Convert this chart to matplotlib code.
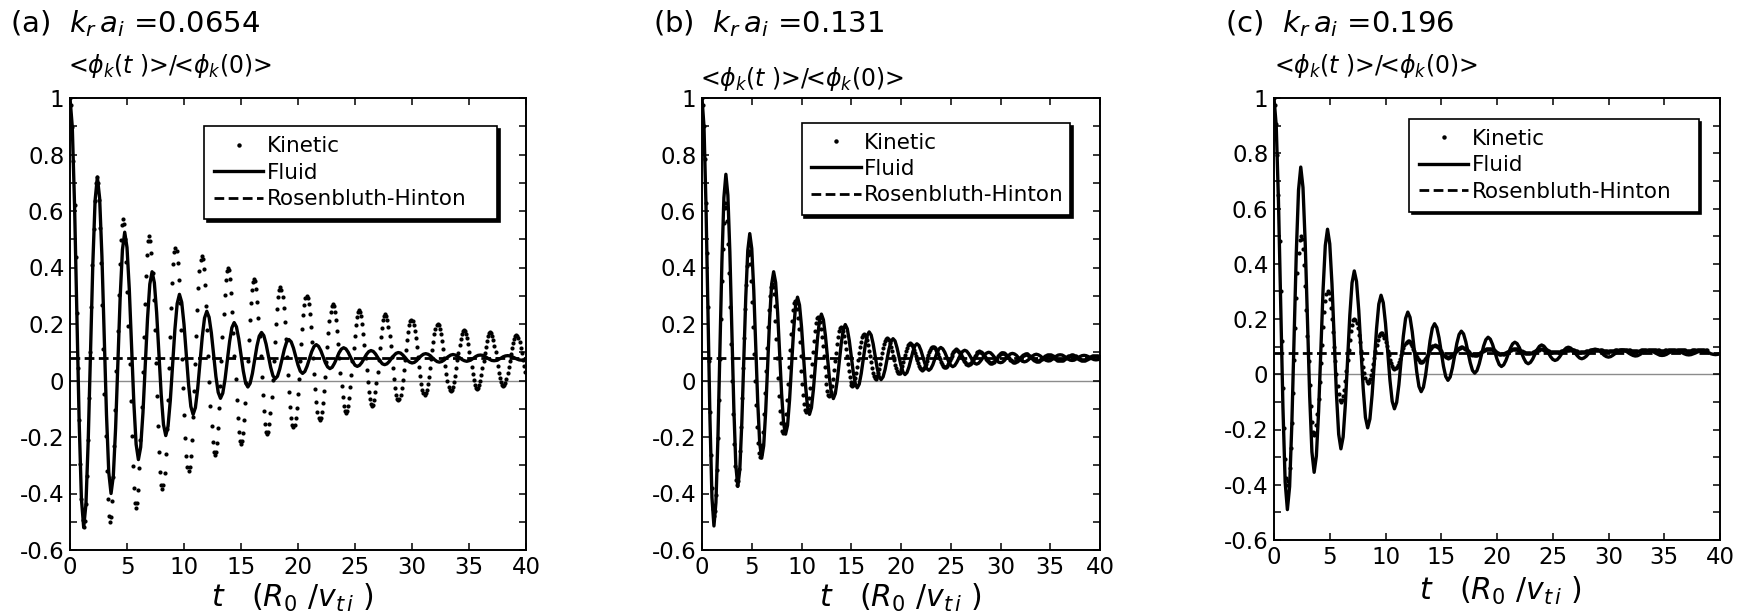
import numpy as np
import matplotlib
matplotlib.use('Agg')
import matplotlib.pyplot as plt
from matplotlib.lines import Line2D
from matplotlib.ticker import MultipleLocator

plt.rcParams['font.family'] = ['DejaVu Sans']
plt.rcParams['mathtext.fontset'] = 'dejavusans'

panel_tags = ['(a)', '(b)', '(c)']
kr_ai = ['0.0654', '0.131', '0.196']
legend_labels = ['Kinetic', 'Fluid', 'Rosenbluth-Hinton']
rh_level = [0.079, 0.08, 0.078]

xticks = [0, 5, 10, 15, 20, 25, 30, 35, 40]
yticks = [-0.6, -0.4, -0.2, 0, 0.2, 0.4, 0.6, 0.8, 1]
ytick_labels = ['-0.6', '-0.4', '-0.2', '0', '0.2', '0.4', '0.6', '0.8', '1']

# fluid results, one value every 0.2 R0/vti
fluid_a = [
    1, 0.898, 0.62, 0.24, -0.14, -0.418,
    -0.52, -0.437, -0.21, 0.1, 0.41, 0.637,
    0.72, 0.645, 0.44, 0.16, -0.12, -0.325,
    -0.4, -0.338, -0.169, 0.063, 0.294, 0.463,
    0.525, 0.471, 0.324, 0.123, -0.079, -0.226,
    -0.28, -0.236, -0.114, 0.053, 0.219, 0.341,
    0.385, 0.346, 0.24, 0.095, -0.05, -0.156,
    -0.195, -0.162, -0.07, 0.055, 0.18, 0.272,
    0.305, 0.277, 0.199, 0.093, -0.014, -0.092,
    -0.12, -0.096, -0.029, 0.063, 0.154, 0.221,
    0.245, 0.224, 0.168, 0.091, 0.014, -0.042,
    -0.063, -0.045, 0.004, 0.071, 0.138, 0.187,
    0.205, 0.19, 0.148, 0.091, 0.034, -0.008,
    -0.023, -0.01, 0.025, 0.074, 0.122, 0.157,
    0.17, 0.159, 0.129, 0.088, 0.047, 0.017,
    0.006, 0.015, 0.041, 0.076, 0.11, 0.136,
    0.145, 0.137, 0.115, 0.085, 0.055, 0.033,
    0.025, 0.032, 0.051, 0.076, 0.102, 0.12,
    0.127, 0.121, 0.106, 0.085, 0.063, 0.048,
    0.042, 0.047, 0.061, 0.079, 0.098, 0.111,
    0.116, 0.112, 0.1, 0.083, 0.067, 0.054,
    0.05, 0.054, 0.064, 0.078, 0.092, 0.102,
    0.106, 0.103, 0.094, 0.081, 0.069, 0.059,
    0.056, 0.059, 0.067, 0.078, 0.088, 0.096,
    0.099, 0.097, 0.09, 0.081, 0.071, 0.065,
    0.062, 0.064, 0.07, 0.079, 0.087, 0.093,
    0.095, 0.093, 0.088, 0.08, 0.073, 0.067,
    0.065, 0.067, 0.072, 0.079, 0.085, 0.09,
    0.092, 0.09, 0.086, 0.08, 0.074, 0.07,
    0.068, 0.07, 0.074, 0.079, 0.085, 0.089,
    0.09, 0.089, 0.085, 0.08, 0.075, 0.071,
    0.07, 0.071, 0.075, 0.079, 0.084, 0.087,
    0.088, 0.087, 0.084, 0.08, 0.076, 0.073,
    0.072, 0.073, 0.076,
]

fluid_b = [
    1, 0.899, 0.621, 0.243, -0.136, -0.414,
    -0.515, -0.432, -0.204, 0.108, 0.419, 0.647,
    0.73, 0.656, 0.454, 0.178, -0.099, -0.301,
    -0.375, -0.315, -0.151, 0.073, 0.296, 0.46,
    0.52, 0.467, 0.321, 0.123, -0.076, -0.222,
    -0.275, -0.231, -0.11, 0.055, 0.22, 0.341,
    0.385, 0.347, 0.241, 0.098, -0.046, -0.152,
    -0.19, -0.158, -0.069, 0.053, 0.174, 0.263,
    0.295, 0.267, 0.191, 0.088, -0.016, -0.092,
    -0.12, -0.096, -0.031, 0.058, 0.146, 0.211,
    0.235, 0.215, 0.16, 0.086, 0.011, -0.044,
    -0.064, -0.046, 0.002, 0.067, 0.133, 0.18,
    0.198, 0.183, 0.142, 0.086, 0.03, -0.011,
    -0.026, -0.013, 0.024, 0.073, 0.123, 0.159,
    0.172, 0.161, 0.13, 0.088, 0.045, 0.014,
    0.003, 0.013, 0.039, 0.076, 0.112, 0.138,
    0.148, 0.14, 0.116, 0.085, 0.053, 0.03,
    0.021, 0.028, 0.048, 0.076, 0.103, 0.123,
    0.13, 0.124, 0.107, 0.083, 0.06, 0.042,
    0.036, 0.042, 0.056, 0.077, 0.097, 0.111,
    0.117, 0.112, 0.1, 0.083, 0.066, 0.054,
    0.049, 0.053, 0.064, 0.078, 0.093, 0.103,
    0.107, 0.104, 0.095, 0.083, 0.07, 0.061,
    0.058, 0.061, 0.069, 0.079, 0.09, 0.097,
    0.1, 0.098, 0.091, 0.082, 0.072, 0.065,
    0.063, 0.065, 0.071, 0.08, 0.088, 0.094,
    0.096, 0.094, 0.089, 0.081, 0.074, 0.068,
    0.066, 0.068, 0.073, 0.08, 0.086, 0.091,
    0.093, 0.091, 0.087, 0.081, 0.075, 0.071,
    0.069, 0.07, 0.075, 0.08, 0.086, 0.09,
    0.091, 0.09, 0.086, 0.081, 0.076, 0.072,
    0.071, 0.072, 0.076, 0.08, 0.085, 0.088,
    0.089, 0.088, 0.085, 0.081, 0.077, 0.074,
    0.073, 0.074, 0.077,
]

fluid_c = [
    1, 0.9, 0.628, 0.255, -0.118, -0.39,
    -0.49, -0.407, -0.18, 0.13, 0.44, 0.667,
    0.75, 0.676, 0.474, 0.198, -0.079, -0.281,
    -0.355, -0.296, -0.135, 0.085, 0.305, 0.466,
    0.525, 0.472, 0.326, 0.128, -0.071, -0.217,
    -0.27, -0.227, -0.109, 0.052, 0.213, 0.331,
    0.374, 0.336, 0.232, 0.09, -0.052, -0.156,
    -0.194, -0.162, -0.074, 0.046, 0.166, 0.254,
    0.286, 0.259, 0.184, 0.081, -0.022, -0.098,
    -0.125, -0.102, -0.038, 0.05, 0.138, 0.202,
    0.225, 0.206, 0.153, 0.081, 0.009, -0.044,
    -0.063, -0.047, -0.002, 0.06, 0.122, 0.167,
    0.183, 0.169, 0.132, 0.081, 0.029, -0.008,
    -0.022, -0.01, 0.023, 0.067, 0.112, 0.144,
    0.156, 0.146, 0.118, 0.08, 0.042, 0.014,
    0.004, 0.013, 0.037, 0.069, 0.102, 0.125,
    0.134, 0.127, 0.108, 0.081, 0.055, 0.035,
    0.028, 0.034, 0.05, 0.072, 0.094, 0.11,
    0.116, 0.111, 0.097, 0.077, 0.058, 0.043,
    0.038, 0.043, 0.055, 0.072, 0.089, 0.101,
    0.106, 0.102, 0.092, 0.078, 0.064, 0.054,
    0.05, 0.053, 0.062, 0.074, 0.086, 0.095,
    0.098, 0.095, 0.088, 0.077, 0.067, 0.059,
    0.056, 0.059, 0.065, 0.074, 0.082, 0.089,
    0.091, 0.089, 0.084, 0.077, 0.069, 0.064,
    0.062, 0.064, 0.069, 0.075, 0.082, 0.086,
    0.088, 0.087, 0.083, 0.077, 0.072, 0.068,
    0.066, 0.067, 0.071, 0.076, 0.081, 0.085,
    0.086, 0.085, 0.082, 0.077, 0.073, 0.069,
    0.068, 0.069, 0.072, 0.077, 0.081, 0.084,
    0.085, 0.084, 0.081, 0.078, 0.074, 0.071,
    0.07, 0.071, 0.074, 0.077, 0.081, 0.083,
    0.084, 0.083, 0.081, 0.078, 0.074, 0.072,
    0.071, 0.072, 0.074,
]

# kinetic results: first 12 samples every 0.1, then 12 samples per half oscillation
kin_half_period = [1.15, 1.16, 1.2]

kin_a = [
    1, 0.974, 0.898, 0.777, 0.62, 0.437, 0.24, 0.043, -0.14, -0.297, -0.418, -0.494,
    -0.52, -0.499, -0.437, -0.338, -0.21, -0.061, 0.1, 0.261, 0.41, 0.538, 0.637, 0.699,
    0.72, 0.699, 0.638, 0.541, 0.415, 0.268, 0.11, -0.048, -0.195, -0.321, -0.418, -0.479,
    -0.5, -0.482, -0.428, -0.343, -0.233, -0.104, 0.035, 0.174, 0.303, 0.413, 0.498, 0.552,
    0.57, 0.553, 0.502, 0.421, 0.315, 0.192, 0.06, -0.072, -0.195, -0.301, -0.382, -0.433,
    -0.45, -0.434, -0.386, -0.309, -0.21, -0.094, 0.03, 0.154, 0.27, 0.369, 0.446, 0.494,
    0.51, 0.495, 0.45, 0.379, 0.286, 0.179, 0.063, -0.054, -0.161, -0.254, -0.325, -0.37,
    -0.385, -0.371, -0.328, -0.26, -0.171, -0.068, 0.043, 0.153, 0.256, 0.345, 0.413, 0.456,
    0.47, 0.457, 0.417, 0.354, 0.273, 0.177, 0.075, -0.027, -0.123, -0.204, -0.267, -0.307,
    -0.32, -0.307, -0.269, -0.209, -0.13, -0.038, 0.06, 0.158, 0.25, 0.329, 0.389, 0.427,
    0.44, 0.429, 0.393, 0.337, 0.264, 0.179, 0.088, -0.004, -0.089, -0.162, -0.218, -0.254,
    -0.265, -0.254, -0.221, -0.168, -0.099, -0.019, 0.068, 0.154, 0.234, 0.303, 0.356, 0.389,
    0.4, 0.39, 0.358, 0.309, 0.244, 0.169, 0.088, 0.007, -0.069, -0.134, -0.183, -0.215,
    -0.225, -0.215, -0.186, -0.139, -0.079, -0.008, 0.068, 0.143, 0.214, 0.274, 0.321, 0.35,
    0.36, 0.351, 0.323, 0.279, 0.223, 0.156, 0.085, 0.014, -0.053, -0.109, -0.153, -0.181,
    -0.19, -0.181, -0.155, -0.114, -0.06, 0.003, 0.07, 0.137, 0.2, 0.254, 0.295, 0.321,
    0.33, 0.322, 0.297, 0.258, 0.206, 0.147, 0.083, 0.018, -0.041, -0.093, -0.132, -0.157,
    -0.165, -0.157, -0.134, -0.097, -0.049, 0.007, 0.068, 0.128, 0.184, 0.232, 0.269, 0.292,
    0.3, 0.293, 0.271, 0.236, 0.19, 0.137, 0.08, 0.023, -0.03, -0.076, -0.111, -0.133,
    -0.14, -0.133, -0.113, -0.08, -0.038, 0.012, 0.065, 0.118, 0.168, 0.21, 0.243, 0.263,
    0.27, 0.264, 0.244, 0.214, 0.174, 0.128, 0.078, 0.028, -0.019, -0.059, -0.089, -0.109,
    -0.115, -0.109, -0.091, -0.062, -0.024, 0.02, 0.068, 0.115, 0.159, 0.197, 0.226, 0.244,
    0.25, 0.244, 0.227, 0.2, 0.165, 0.124, 0.08, 0.036, -0.005, -0.04, -0.067, -0.084,
    -0.09, -0.085, -0.068, -0.042, -0.009, 0.031, 0.073, 0.114, 0.154, 0.187, 0.213, 0.23,
    0.235, 0.23, 0.215, 0.19, 0.159, 0.122, 0.083, 0.043, 0.006, -0.025, -0.05, -0.065,
    -0.07, -0.065, -0.051, -0.028, 0.001, 0.036, 0.073, 0.109, 0.144, 0.173, 0.196, 0.21,
    0.215, 0.211, 0.197, 0.176, 0.149, 0.117, 0.083, 0.048, 0.016, -0.011, -0.032, -0.045,
    -0.05, -0.046, -0.033, -0.013, 0.013, 0.043, 0.075, 0.107, 0.138, 0.163, 0.183, 0.196,
    0.2, 0.196, 0.184, 0.165, 0.141, 0.112, 0.081, 0.05, 0.022, -0.003, -0.022, -0.034,
    -0.038, -0.034, -0.023, -0.006, 0.017, 0.043, 0.071, 0.099, 0.126, 0.148, 0.165, 0.176,
    0.18, 0.176, 0.166, 0.149, 0.128, 0.102, 0.075, 0.048, 0.023, 0.001, -0.016, -0.026,
    -0.03, -0.027, -0.017, -0.001, 0.02, 0.044, 0.07, 0.096, 0.12, 0.141, 0.157, 0.167,
    0.17, 0.167, 0.157, 0.142, 0.123, 0.1, 0.075, 0.05, 0.028, 0.008, -0.007, -0.017,
    -0.02, -0.017, -0.008, 0.006, 0.025, 0.047, 0.07, 0.093, 0.115, 0.134, 0.148, 0.157,
    0.16, 0.157, 0.149, 0.135, 0.116, 0.096, 0.073, 0.05, 0.029,
]

kin_b = [
    1, 0.975, 0.901, 0.783, 0.63, 0.452, 0.26, 0.068, -0.11, -0.263, -0.381, -0.455,
    -0.48, -0.461, -0.406, -0.317, -0.203, -0.069, 0.075, 0.219, 0.353, 0.467, 0.556, 0.611,
    0.63, 0.613, 0.563, 0.484, 0.38, 0.26, 0.13, 0.0, -0.12, -0.224, -0.303, -0.353,
    -0.37, -0.356, -0.314, -0.248, -0.163, -0.062, 0.045, 0.152, 0.253, 0.338, 0.404, 0.446,
    0.46, 0.448, 0.411, 0.353, 0.278, 0.19, 0.095, 0.0, -0.088, -0.163, -0.221, -0.258,
    -0.27, -0.26, -0.229, -0.181, -0.118, -0.044, 0.035, 0.114, 0.188, 0.251, 0.299, 0.33,
    0.34, 0.332, 0.305, 0.264, 0.209, 0.146, 0.078, 0.01, -0.054, -0.109, -0.15, -0.177,
    -0.185, -0.178, -0.154, -0.117, -0.069, -0.013, 0.048, 0.108, 0.164, 0.212, 0.249, 0.273,
    0.28, 0.273, 0.254, 0.223, 0.183, 0.136, 0.085, 0.034, -0.013, -0.053, -0.084, -0.103,
    -0.11, -0.104, -0.088, -0.061, -0.026, 0.015, 0.058, 0.1, 0.141, 0.176, 0.203, 0.22,
    0.225, 0.22, 0.206, 0.184, 0.155, 0.121, 0.085, 0.049, 0.015, -0.014, -0.036, -0.05,
    -0.055, -0.051, -0.039, -0.019, 0.007, 0.036, 0.068, 0.099, 0.129, 0.154, 0.174, 0.186,
    0.19, 0.186, 0.176, 0.159, 0.138, 0.112, 0.085, 0.058, 0.033, 0.011, -0.006, -0.016,
    -0.02, -0.017, -0.008, 0.008, 0.026, 0.049, 0.073, 0.096, 0.119, 0.138, 0.153, 0.162,
    0.165, 0.162, 0.154, 0.142, 0.125, 0.106, 0.085, 0.064, 0.045, 0.028, 0.016, 0.008,
    0.005, 0.008, 0.015, 0.027, 0.041, 0.059, 0.078, 0.096, 0.114, 0.129, 0.14, 0.148,
    0.15, 0.148, 0.142, 0.132, 0.119, 0.104, 0.088, 0.071, 0.056, 0.043, 0.033, 0.027,
    0.025, 0.027, 0.032, 0.041, 0.052, 0.065, 0.079, 0.092, 0.105, 0.116, 0.125, 0.13,
    0.132, 0.13, 0.126, 0.118, 0.109, 0.097, 0.085, 0.073, 0.062, 0.052, 0.044, 0.04,
    0.038, 0.039, 0.044, 0.05, 0.059, 0.068, 0.079, 0.09, 0.1, 0.108, 0.115, 0.119,
    0.12, 0.119, 0.115, 0.109, 0.102, 0.093, 0.084, 0.075, 0.066, 0.059, 0.053, 0.049,
    0.048, 0.049, 0.052, 0.057, 0.064, 0.071, 0.079, 0.087, 0.095, 0.101, 0.106, 0.109,
    0.11, 0.109, 0.106, 0.102, 0.097, 0.09, 0.083, 0.076, 0.07, 0.064, 0.06, 0.057,
    0.056, 0.057, 0.06, 0.063, 0.068, 0.074, 0.08, 0.086, 0.091, 0.096, 0.1, 0.102,
    0.103, 0.102, 0.1, 0.097, 0.093, 0.088, 0.083, 0.077, 0.072, 0.068, 0.065, 0.063,
    0.062, 0.063, 0.064, 0.067, 0.071, 0.075, 0.08, 0.085, 0.089, 0.093, 0.096, 0.097,
    0.098, 0.097, 0.096, 0.093, 0.09, 0.086, 0.082, 0.078, 0.074, 0.071, 0.068, 0.067,
    0.066, 0.067, 0.068, 0.07, 0.073, 0.076, 0.08, 0.084, 0.087, 0.09, 0.092, 0.094,
    0.094, 0.094, 0.093, 0.091, 0.088, 0.085, 0.082, 0.078, 0.075, 0.073, 0.071, 0.07,
    0.069, 0.069, 0.07, 0.072, 0.075, 0.077, 0.08, 0.083, 0.086, 0.088, 0.09, 0.091,
    0.091, 0.091, 0.09, 0.088, 0.086, 0.084, 0.081, 0.078, 0.076, 0.074, 0.072, 0.071,
    0.071, 0.071, 0.072, 0.074, 0.076, 0.078, 0.08, 0.082, 0.085, 0.086, 0.088, 0.089,
    0.089, 0.089, 0.088, 0.087, 0.085, 0.083, 0.081, 0.079, 0.077, 0.075, 0.074, 0.073,
    0.073, 0.073, 0.074, 0.075, 0.077, 0.078, 0.08, 0.082, 0.084, 0.085, 0.086, 0.087,
    0.087, 0.087, 0.086, 0.085, 0.084, 0.082,
]

kin_c = [
    1, 0.976, 0.906, 0.795, 0.65, 0.481, 0.3, 0.119, -0.05, -0.195, -0.306, -0.376,
    -0.4, -0.385, -0.34, -0.268, -0.175, -0.067, 0.05, 0.167, 0.275, 0.368, 0.44, 0.485,
    0.5, 0.488, 0.452, 0.395, 0.32, 0.233, 0.14, 0.047, -0.04, -0.115, -0.172, -0.208,
    -0.22, -0.211, -0.185, -0.144, -0.09, -0.027, 0.04, 0.107, 0.17, 0.224, 0.265, 0.291,
    0.3, 0.293, 0.273, 0.241, 0.2, 0.152, 0.1, 0.048, 0.0, -0.041, -0.073, -0.093,
    -0.1, -0.095, -0.08, -0.056, -0.025, 0.011, 0.05, 0.089, 0.125, 0.156, 0.18, 0.195,
    0.2, 0.196, 0.185, 0.166, 0.143, 0.115, 0.085, 0.055, 0.028, 0.004, -0.015, -0.026,
    -0.03, -0.027, -0.018, -0.004, 0.015, 0.037, 0.06, 0.083, 0.105, 0.124, 0.138, 0.147,
    0.15, 0.148, 0.141, 0.131, 0.118, 0.102, 0.085, 0.068, 0.053, 0.039, 0.029, 0.022,
    0.02, 0.022, 0.027, 0.035, 0.045, 0.057, 0.07, 0.083, 0.095, 0.105, 0.113, 0.118,
    0.12, 0.119, 0.115, 0.109, 0.101, 0.092, 0.083, 0.073, 0.064, 0.056, 0.05, 0.046,
    0.045, 0.046, 0.049, 0.054, 0.06, 0.067, 0.075, 0.083, 0.09, 0.096, 0.101, 0.104,
    0.105, 0.104, 0.102, 0.099, 0.094, 0.088, 0.083, 0.077, 0.071, 0.067, 0.063, 0.061,
    0.06, 0.061, 0.063, 0.066, 0.069, 0.074, 0.079, 0.083, 0.088, 0.092, 0.094, 0.096,
    0.097, 0.097, 0.095, 0.093, 0.09, 0.086, 0.083, 0.079, 0.075, 0.072, 0.07, 0.069,
    0.068, 0.069, 0.07, 0.072, 0.074, 0.077, 0.081, 0.084, 0.087, 0.089, 0.091, 0.092,
    0.093, 0.093, 0.092, 0.09, 0.088, 0.086, 0.083, 0.08, 0.078, 0.076, 0.074, 0.073,
    0.073, 0.073, 0.074, 0.076, 0.078, 0.08, 0.082, 0.084, 0.087, 0.088, 0.09, 0.091,
    0.091, 0.091, 0.09, 0.089, 0.087, 0.085, 0.084, 0.082, 0.08, 0.078, 0.077, 0.076,
    0.076, 0.076, 0.077, 0.078, 0.08, 0.081, 0.083, 0.085, 0.087, 0.088, 0.089, 0.09,
    0.09, 0.09, 0.089, 0.088, 0.087, 0.086, 0.085, 0.083, 0.082, 0.081, 0.08, 0.079,
    0.079, 0.079, 0.08, 0.08, 0.082, 0.083, 0.084, 0.085, 0.087, 0.088, 0.088, 0.089,
    0.089, 0.089, 0.088, 0.088, 0.087, 0.086, 0.085, 0.084, 0.083, 0.082, 0.082, 0.081,
    0.081, 0.081, 0.082, 0.082, 0.083, 0.084, 0.085, 0.086, 0.087, 0.088, 0.088, 0.089,
    0.089, 0.089, 0.089, 0.088, 0.088, 0.087, 0.086, 0.085, 0.085, 0.084, 0.083, 0.083,
    0.083, 0.083, 0.083, 0.084, 0.085, 0.085, 0.086, 0.087, 0.088, 0.088, 0.089, 0.089,
    0.089, 0.089, 0.089, 0.088, 0.088, 0.087, 0.087, 0.086, 0.085, 0.085, 0.084, 0.084,
    0.084, 0.084, 0.084, 0.085, 0.085, 0.086, 0.087, 0.087, 0.088, 0.088, 0.089, 0.089,
    0.089, 0.089, 0.089, 0.088, 0.088, 0.088, 0.087, 0.086, 0.086, 0.086, 0.085, 0.085,
    0.085, 0.085, 0.085, 0.086, 0.086, 0.086, 0.087, 0.088, 0.088, 0.088, 0.089, 0.089,
    0.089, 0.089, 0.089, 0.088, 0.088, 0.088, 0.087, 0.086, 0.086, 0.086, 0.085, 0.085,
    0.085, 0.085, 0.085, 0.086, 0.086, 0.086, 0.087, 0.088, 0.088, 0.088, 0.089, 0.089,
    0.089, 0.089, 0.089, 0.088, 0.088,
]

W, H = 1751, 616
fig = plt.figure(figsize=(W / 100, H / 100), dpi=100)


def px(x, y):
    return x / W, 1 - y / H


# axes boxes in pixels: left, top, right, bottom
boxes = [(70, 98, 526, 550), (702, 98, 1100, 550), (1274, 98, 1720, 540)]
# legend boxes in axes fraction: x0, y_top, width
leg_boxes = [(0.294, 0.937, 0.642), (0.25, 0.945, 0.674), (0.303, 0.952, 0.649)]
title_pos = [(10, 24), (653, 24), (1225, 24)]
ylab_pos = [(68, 66), (700, 79), (1274, 66)]
xlab_pos = [(292, 607), (900, 607), (1500, 600)]

fluids = [fluid_a, fluid_b, fluid_c]
kinetics = [kin_a, kin_b, kin_c]
dash = (0, (3.5, 1.6))

for i in range(3):
    l, t, r, b = boxes[i]
    ax = fig.add_axes([l / W, 1 - b / H, (r - l) / W, (b - t) / H])

    fl = np.array(fluids[i])
    t_fl = 0.2 * np.arange(len(fl))
    kin = np.array(kinetics[i])
    t_kin = np.r_[0.1 * np.arange(12),
                  1.2 + kin_half_period[i] / 12 * np.arange(len(kin) - 12)]

    ax.axhline(0, color='0.55', lw=1.0, zorder=1)
    ax.axhline(rh_level[i], color='black', lw=2.0, ls=dash, zorder=2)
    ax.plot(t_kin, kin, 'o', ms=3.0, mew=0, color='black', zorder=3)
    ax.plot(t_fl, fl, '-', lw=2.4, color='black', zorder=4)

    ax.set_xlim(0, 40)
    ax.set_ylim(-0.6, 1)
    ax.set_xticks(xticks)
    ax.set_xticklabels([str(v) for v in xticks])
    ax.set_yticks(yticks)
    ax.set_yticklabels(ytick_labels)
    ax.yaxis.set_minor_locator(MultipleLocator(0.1))
    ax.tick_params(which='both', direction='in', top=True, right=True,
                   length=5, width=1.1, labelsize=16.5, pad=4)
    for s in ax.spines.values():
        s.set_linewidth(1.4)

    handles = [
        Line2D([], [], ls='none', marker='o', ms=3.2, mew=0, color='black'),
        Line2D([], [], ls='-', lw=2.4, color='black'),
        Line2D([], [], ls=dash, lw=2.0, color='black'),
    ]
    x0, ytop, w = leg_boxes[i]
    leg = ax.legend(handles, legend_labels, loc='upper left',
                    bbox_to_anchor=(x0, ytop - 0.3, w, 0.3), mode='expand',
                    fontsize=15.5, frameon=True, fancybox=False,
                    shadow={'color': 'black', 'alpha': 1}, edgecolor='black',
                    framealpha=1, handlelength=2.3, handletextpad=0.15,
                    labelspacing=0.3, borderpad=0.45, borderaxespad=0)
    leg.get_frame().set_linewidth(1.2)

    fig.text(*px(*title_pos[i]), panel_tags[i] + '  $k_r\\,a_i$ =' + kr_ai[i],
             fontsize=21, ha='left', va='center')
    fig.text(*px(*ylab_pos[i]), '<$\\phi_k$($t$ )>/<$\\phi_k$(0)>',
             fontsize=17, ha='left', va='center')
    fig.text(*px(*xlab_pos[i]), '$t$   ($R_0$ /$v_{t\\,i}$ )',
             fontsize=21.5, ha='center', va='baseline')

fig.savefig('out.png', dpi=100)
